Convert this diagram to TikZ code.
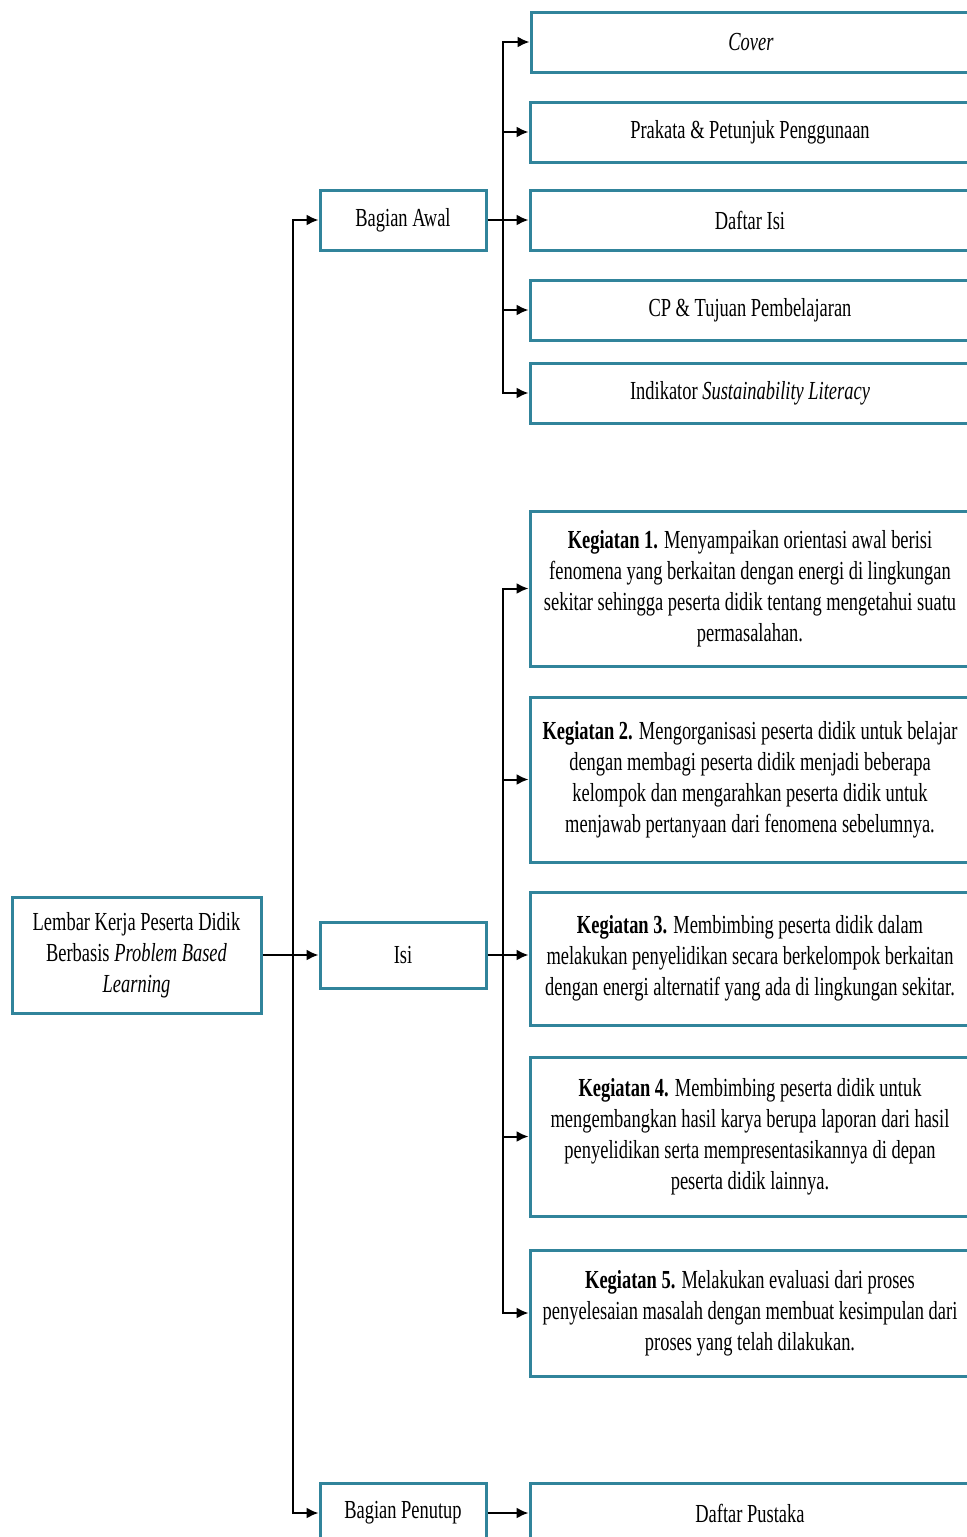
\documentclass[tikz,border=0pt]{standalone}
\usepackage{fontspec}
\setmainfont[FakeStretch=0.71]{Liberation Serif}
\usetikzlibrary{arrows.meta}
\definecolor{tealbox}{RGB}{49,132,155}

\begin{document}
\begin{tikzpicture}[x=0.5pt, y=-0.5pt,
    box/.style={draw=tealbox, line width=1.5pt, fill=white, align=center,
      inner sep=0pt, font=\fontsize{13}{15.5}\selectfont},
    midbox/.style={box, minimum width=83pt, minimum height=30pt},
    itembox/.style={box, minimum width=220pt, minimum height=30pt},
    arr/.style={line width=1pt, -{Latex[length=6pt,width=5.5pt]}}]
  \clip (0,0) rectangle (967,1537);
  % main column
  \node[box, minimum width=124.5pt, minimum height=58pt] (lkpd) at (136.5,955)
    {Lembar Kerja Peserta Didik\\Berbasis \textit{Problem Based}\\\textit{Learning}};
  \node[midbox] (awal) at (403,220) {Bagian Awal};
  \node[midbox, minimum height=33pt] (isi) at (403,955) {Isi};
  \node[midbox] (tutup) at (403,1513) {Bagian Penutup};
  % bagian awal
  \node[itembox] (cover) at (751,42) {\textit{Cover}};
  \node[itembox] (prakata) at (750,132) {Prakata \& Petunjuk Penggunaan};
  \node[itembox] (daftarisi) at (750,220) {Daftar Isi};
  \node[itembox] (cp) at (750,310) {CP \& Tujuan Pembelajaran};
  \node[itembox] (indikator) at (750,393) {Indikator \textit{Sustainability Literacy}};
  % isi
  \node[itembox, minimum height=77.5pt] (keg1) at (750,588.5)
    {\textbf{Kegiatan 1.} Menyampaikan orientasi awal berisi\\fenomena yang berkaitan dengan energi di lingkungan\\sekitar sehingga peserta didik tentang mengetahui suatu\\permasalahan.};
  \node[itembox, minimum height=82.5pt] (keg2) at (750,779.5)
    {\textbf{Kegiatan 2.} Mengorganisasi peserta didik untuk belajar\\dengan membagi peserta didik menjadi beberapa\\kelompok dan mengarahkan peserta didik untuk\\menjawab pertanyaan dari fenomena sebelumnya.};
  \node[itembox, minimum height=66.5pt] (keg3) at (750,958.5)
    {\textbf{Kegiatan 3.} Membimbing peserta didik dalam\\melakukan penyelidikan secara berkelompok berkaitan\\dengan energi alternatif yang ada di lingkungan sekitar.};
  \node[itembox, minimum height=79.5pt] (keg4) at (750,1136.5)
    {\textbf{Kegiatan 4.} Membimbing peserta didik untuk\\mengembangkan hasil karya berupa laporan dari hasil\\penyelidikan serta mempresentasikannya di depan\\peserta didik lainnya.};
  \node[itembox, minimum height=63pt] (keg5) at (750,1313)
    {\textbf{Kegiatan 5.} Melakukan evaluasi dari proses\\penyelesaian masalah dengan membuat kesimpulan dari\\proses yang telah dilakukan.};
  % bagian penutup
  \node[itembox] (pustaka) at (750,1513) {Daftar Pustaka};

  \coordinate (spine) at (293,0);
  \coordinate (bus) at (503,0);

  \draw[arr] (lkpd.east) -- (isi.west);
  \draw[arr] (lkpd.east -| spine) |- (awal.west);
  \draw[arr] (lkpd.east -| spine) |- (tutup.west);
  \draw[arr] (awal.east) -- (daftarisi.west);
  \foreach \n in {cover,prakata,cp,indikator}
    \draw[arr] (awal.east -| bus) |- (\n.west);
  \draw[arr] (isi.east) -- (isi.east -| keg3.west);
  \foreach \n in {keg1,keg2,keg4,keg5}
    \draw[arr] (isi.east -| bus) |- (\n.west);
  \draw[arr] (tutup.east) -- (pustaka.west);
\end{tikzpicture}
\end{document}
